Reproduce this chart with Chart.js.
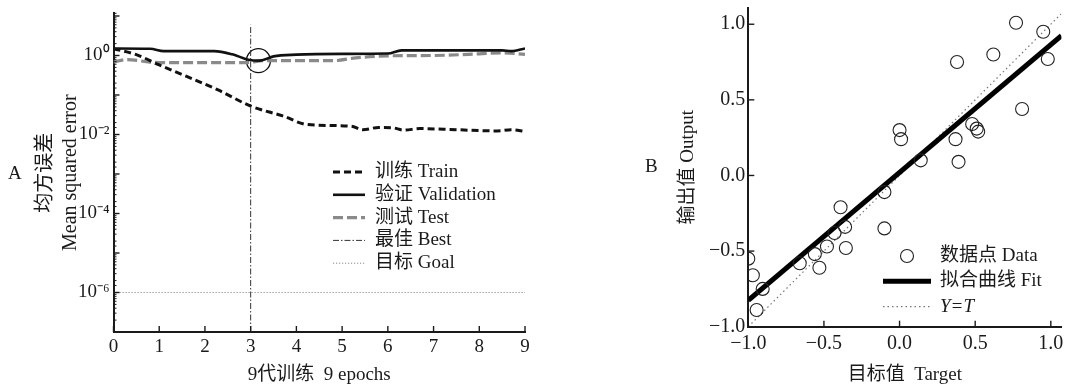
<!DOCTYPE html>
<html>
<head>
<meta charset="utf-8">
<script src="https://cdn.jsdelivr.net/npm/chart.js@4.4.1/dist/chart.umd.min.js"></script>
<style>
  html, body { margin: 0; padding: 0; background: #fff; }
  #wrap { position: relative; width: 1069px; height: 388px; }
  .box { position: absolute; top: 0; height: 388px; }
  #boxA { left: 0; width: 540px; }
  #boxB { left: 540px; width: 529px; }
</style>
</head>
<body>
<div id="wrap">
  <div class="box" id="boxA"><canvas id="chartA"></canvas></div>
  <div class="box" id="boxB"><canvas id="chartB"></canvas></div>
</div>
<script>
// ---- A: mean squared error per epoch (log scale)
const trainEpochs = [0, 0.5, 1, 1.6, 2.3, 3, 3.7, 4.25, 5.2, 5.45, 5.8, 6.1, 6.35, 6.7, 7.5, 8.4, 8.7, 9];
const trainMSE = [1.48, 1.05, 0.575, 0.295, 0.132, 0.0525, 0.0295, 0.0178, 0.0162, 0.0132, 0.0151, 0.0148, 0.0129, 0.0141, 0.0132, 0.0123, 0.0132, 0.0120];
const valEpochs = [0, 0.8, 1.1, 2.2, 2.6, 2.95, 3.2, 3.5, 4, 5, 6, 6.3, 8.5, 8.7, 9];
const valMSE = [1.50, 1.48, 1.29, 1.29, 1.07, 0.78, 0.74, 0.95, 1.05, 1.10, 1.12, 1.35, 1.35, 1.29, 1.51];
const testEpochs = [0, 0.3, 0.8, 1.2, 2.9, 3.3, 4.8, 5.3, 6, 7, 8, 8.5, 9];
const testMSE = [0.68, 0.79, 0.68, 0.66, 0.66, 0.74, 0.74, 0.87, 0.98, 1.0, 1.10, 1.17, 1.07];
const bestEpoch = 3;
const bestLineMSE = [1e-7, 6.0];
const bestMark = { x: 3.17, y: 0.74 };
const goalEpochs = [0, 9];
const goalMSE = 1e-6;
const mseLabelValues = [1, 1e-2, 1e-4, 1e-6];
const epochTicks = [0, 1, 2, 3, 4, 5, 6, 7, 8, 9];

// ---- B: output vs target regression
const targetVals = [0.77, 0.95, 0.98, 0.62, 0.38, 0.81, 0.48, 0.51, 0.52, 0.37, 0.39, 0.00, 0.01, 0.14,
  -0.10, -0.10, -0.39, -0.36, -0.43, -0.355, -0.48, -0.56, -0.53, -0.66, -0.905, -0.97, -1.0, -0.945];
const outputVals = [1.01, 0.95, 0.77, 0.80, 0.75, 0.44, 0.34, 0.31, 0.29, 0.24, 0.09, 0.30, 0.24, 0.10,
  -0.11, -0.35, -0.21, -0.34, -0.38, -0.48, -0.47, -0.52, -0.61, -0.58, -0.75, -0.66, -0.55, -0.89];
const fitX = [-1.0, 1.07];
const fitY = [-0.825, 0.924];
const idealX = [-1.0, 1.07];
const regTicks = [-1.0, -0.5, 0.0, 0.5, 1.0];

const FAMILY = "'Liberation Serif', 'Noto Sans CJK SC', serif";
const INK = '#1a1a1a';
Chart.defaults.font.family = FAMILY;
Chart.defaults.color = INK;
Chart.defaults.animation = false;

const pts = (xs, ys) => xs.map((v, i) => ({ x: v, y: ys[i] }));
const sup = { '0': '\u2070', '1': '\u00b9', '2': '\u00b2', '3': '\u00b3', '4': '\u2074', '5': '\u2075', '6': '\u2076', '7': '\u2077', '8': '\u2078', '9': '\u2079', '-': '\u207b' };
const isPow10 = v => Math.abs(Math.log10(v) - Math.round(Math.log10(v))) < 1e-6;

function fixBox(size) {
  return s => {
    if (s.isHorizontal()) s.height = size; else s.width = size;
    s.paddingTop = 0; s.paddingBottom = 0; s.paddingLeft = 0; s.paddingRight = 0;
  };
}

// ticks drawn inward from both axes
function inwardTicks(opts) {
  return {
    id: 'inwardTicks',
    afterDatasetsDraw(chart) {
      const { ctx } = chart;
      const xs = chart.scales.x, ys = chart.scales.y;
      ctx.save();
      ctx.strokeStyle = INK;
      ctx.lineWidth = 1.4;
      xs.ticks.forEach(t => {
        const px = xs.getPixelForValue(t.value);
        ctx.beginPath(); ctx.moveTo(px, ys.bottom); ctx.lineTo(px, ys.bottom - opts.x); ctx.stroke();
      });
      ys.ticks.forEach(t => {
        const py = ys.getPixelForValue(t.value);
        const len = opts.logMinor && !isPow10(t.value) ? opts.logMinor : opts.y;
        ctx.lineWidth = len === opts.y ? 1.4 : 1;
        ctx.beginPath(); ctx.moveTo(xs.left, py); ctx.lineTo(xs.left + len, py); ctx.stroke();
      });
      ctx.restore();
    }
  };
}

function legendPlugin(letter, letterPos, box) {
  return {
    id: 'panelLegend',
    afterDraw(chart) {
      const { ctx } = chart;
      ctx.save();
      ctx.fillStyle = INK;
      ctx.textBaseline = 'middle';
      ctx.font = '19px ' + FAMILY;
      ctx.fillText(letter, letterPos[0], letterPos[1]);
      let row = 0;
      chart.data.datasets.forEach(ds => {
        if (ds.inLegend === false) return;
        const y = box.y + row * box.step;
        const [x0, x1] = box.sample;
        ctx.save();
        if (ds.showLine === false) {
          ctx.beginPath();
          ctx.arc((x0 + x1) / 2, y, ds.pointRadius, 0, Math.PI * 2);
          ctx.lineWidth = ds.pointBorderWidth;
          ctx.strokeStyle = ds.pointBorderColor;
          ctx.stroke();
        } else {
          ctx.beginPath();
          ctx.setLineDash(ds.borderDash || []);
          ctx.lineWidth = ds.borderWidth;
          ctx.strokeStyle = ds.borderColor;
          ctx.moveTo(x0, y); ctx.lineTo(x1, y);
          ctx.stroke();
        }
        ctx.restore();
        ctx.font = (ds.italic ? 'italic ' : '') + box.size + 'px ' + FAMILY;
        ctx.fillText(ds.label, box.textX, y);
        row++;
      });
      ctx.restore();
    }
  };
}

new Chart(document.getElementById('chartA'), {
  type: 'line',
  data: {
    datasets: [
      { label: '训练 Train', data: pts(trainEpochs, trainMSE), borderColor: '#111', borderWidth: 3, borderDash: [7, 4], pointRadius: 0, cubicInterpolationMode: 'monotone' },
      { label: '验证 Validation', data: pts(valEpochs, valMSE), borderColor: '#111', borderWidth: 2.6, pointRadius: 0, cubicInterpolationMode: 'monotone' },
      { label: '测试 Test', data: pts(testEpochs, testMSE), borderColor: '#8a8a8a', borderWidth: 3.2, borderDash: [10, 4], pointRadius: 0, cubicInterpolationMode: 'monotone' },
      { label: '最佳 Best', data: pts([bestEpoch, bestEpoch], bestLineMSE), borderColor: '#333', borderWidth: 1, borderDash: [6, 2, 1.5, 2], pointRadius: 0 },
      { label: '目标 Goal', data: pts(goalEpochs, [goalMSE, goalMSE]), borderColor: '#8a8a8a', borderWidth: 1, borderDash: [1.2, 1.8], pointRadius: 0 },
      { label: 'best', inLegend: false, data: [bestMark], showLine: false, pointRadius: 12, pointBorderWidth: 1.3, pointBorderColor: '#111', pointBackgroundColor: 'rgba(0,0,0,0)' }
    ]
  },
  options: {
    responsive: true,
    maintainAspectRatio: false,
    layout: { padding: { left: 14, top: 10, right: 15, bottom: 2 } },
    plugins: { legend: { display: false }, tooltip: { enabled: false } },
    scales: {
      x: {
        type: 'linear', min: 0, max: 9,
        afterBuildTicks: s => { s.ticks = epochTicks.map(v => ({ value: v })); },
        afterFit: fixBox(54),
        grid: { display: true, drawOnChartArea: false, drawTicks: false },
        border: { color: INK, width: 2 },
        ticks: { font: { size: 19, lineHeight: 1.1 }, padding: 5, maxRotation: 0 },
        title: { display: true, text: '9代训练  9 epochs', font: { size: 19 }, padding: 0 }
      },
      y: {
        type: 'logarithmic', min: 1e-7, max: 11.7,
        afterFit: fixBox(99.5),
        grid: { display: true, drawOnChartArea: false, drawTicks: false },
        border: { color: INK, width: 2 },
        ticks: {
          autoSkip: false, padding: 4, font: { size: 19, lineHeight: 1.1 },
          callback: v => {
            const hit = mseLabelValues.find(l => Math.abs(Math.log10(v) - Math.log10(l)) < 1e-6);
            if (hit === undefined) return '';
            return '10' + String(Math.round(Math.log10(hit))).split('').map(c => sup[c]).join('');
          }
        },
        title: { display: true, text: ['均方误差', 'Mean squared error'], font: { size: 20, lineHeight: 1.25 }, padding: { top: 19, bottom: 0 } }
      }
    }
  },
  plugins: [inwardTicks({ x: 6, y: 6, logMinor: 3 }), legendPlugin('A', [8, 174], { y: 172, step: 22.8, sample: [333, 365], textX: 375, size: 19 })]
});

new Chart(document.getElementById('chartB'), {
  type: 'scatter',
  data: {
    datasets: [
      { label: '数据点 Data', data: pts(targetVals, outputVals), showLine: false, pointRadius: 6.5, pointBorderWidth: 1.1, pointBorderColor: '#222', pointBackgroundColor: 'rgba(0,0,0,0)' },
      { label: '拟合曲线 Fit', data: pts(fitX, fitY), showLine: true, borderColor: '#000', borderWidth: 5, pointRadius: 0 },
      { label: 'Y=T', italic: true, data: pts(idealX, idealX), showLine: true, borderColor: '#777', borderWidth: 1.2, borderDash: [1.5, 3], pointRadius: 0 }
    ]
  },
  options: {
    responsive: true,
    maintainAspectRatio: false,
    layout: { padding: { left: 134, top: 5, right: 5, bottom: 2 } },
    plugins: { legend: { display: false }, tooltip: { enabled: false } },
    scales: {
      x: {
        type: 'linear', min: -1.0, max: 1.07,
        afterBuildTicks: s => { s.ticks = regTicks.map(v => ({ value: v })); },
        afterFit: fixBox(59.3),
        grid: { display: true, drawOnChartArea: false, drawTicks: false },
        border: { color: INK, width: 2 },
        ticks: { font: { size: 20, lineHeight: 1.1 }, padding: 6, maxRotation: 0, callback: v => (v < 0 ? '\u2212' : '') + Math.abs(v).toFixed(1) },
        title: { display: true, text: '目标值  Target', font: { size: 19 }, padding: 0 }
      },
      y: {
        type: 'linear', min: -1.0, max: 1.11,
        afterBuildTicks: s => { s.ticks = regTicks.map(v => ({ value: v })); },
        afterFit: fixBox(74.3),
        grid: { display: true, drawOnChartArea: false, drawTicks: false },
        border: { color: INK, width: 2 },
        ticks: { font: { size: 20, lineHeight: 1.1 }, padding: 3, callback: v => (v < 0 ? '\u2212' : '') + Math.abs(v).toFixed(1) },
        title: { display: true, text: '输出值 Output', font: { size: 19 }, padding: { top: 3, bottom: 0 } }
      }
    }
  },
  plugins: [inwardTicks({ x: 6, y: 6 }), legendPlugin('B', [105, 167], { y: 256, step: 25.3, sample: [343, 391], textX: 400, size: 19 })]
});
</script>
</body>
</html>
